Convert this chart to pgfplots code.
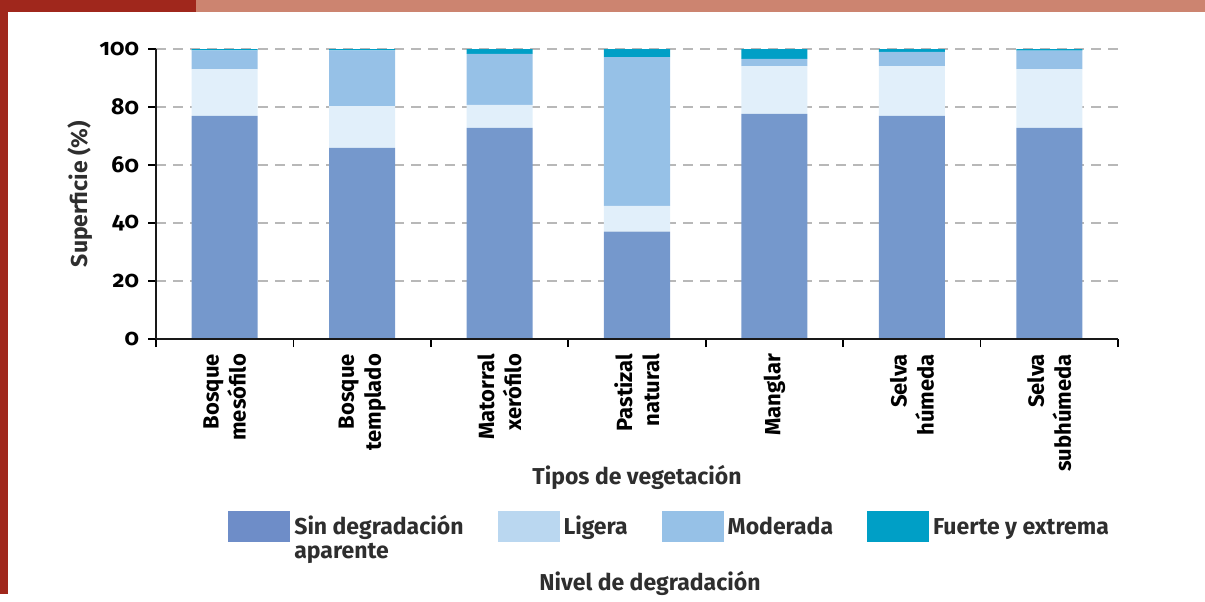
\documentclass[border=0pt]{standalone}
\usepackage{fontspec}
\setmainfont{Fira Sans}[Numbers=OldStyle]
\usepackage{pgfplots}
\usepackage{pgfplotstable}
\pgfplotsset{compat=1.18}

\definecolor{sinC}{HTML}{7598CC}
\definecolor{sinL}{HTML}{6E8DC8}
\definecolor{ligC}{HTML}{E1EFFA}
\definecolor{ligL}{HTML}{BAD7F0}
\definecolor{modC}{HTML}{96C1E7}
\definecolor{fueC}{HTML}{009FC6}
\definecolor{darkred}{HTML}{A0271C}
\definecolor{salmon}{HTML}{CC8470}
\definecolor{txt}{HTML}{2E2E2E}

% bars above the grid, axis lines above the bars
\pgfplotsset{
  layers/barsmid/.define layer set={
    axis background,axis grid,pre main,main,axis ticks,axis lines,
    axis tick labels,axis descriptions,axis foreground
  }{
    grid style={/pgfplots/on layer=axis grid},
    tick style={/pgfplots/on layer=axis ticks},
    axis line style={/pgfplots/on layer=axis lines},
    label style={/pgfplots/on layer=axis descriptions},
    legend style={/pgfplots/on layer=axis descriptions},
    title style={/pgfplots/on layer=axis descriptions},
    ticklabel style={/pgfplots/on layer=axis tick labels},
    axis background@ style={/pgfplots/on layer=axis background},
  },
}
\newcommand\lstrut{\rule{0pt}{10pt}}

% superficie (%) por nivel de degradacion
\pgfplotstableread{
x   sin   lig   mod   fue
0   76.9  16.2  6.4   0.5
1   65.9  14.4  19.2  0.5
2   72.8  7.9   17.6  1.7
3   37.0  8.9   51.3  2.8
4   77.6  16.5  2.5   3.4
5   76.9  17.2  4.9   1.0
6   72.8  20.3  6.3   0.6
}\degtable

\begin{document}
\begin{tikzpicture}
\begin{axis}[
  at={(0,0)}, anchor=south west,
  width=481pt, height=145pt, scale only axis,
  set layers=barsmid,
  ybar stacked, bar width=33pt,
  xmin=-0.5, xmax=6.5, ymin=0, ymax=100,
  axis x line*=bottom, axis y line*=left,
  axis line style={line width=1pt, color=black!90},
  tick align=outside,
  xtick={0,...,6},
  xticklabels={{Bosque\\mesófilo},{Bosque\\templado},{Matorral\\xerófilo},
    {Pastizal\\natural},{Manglar},{Selva\\húmeda},{Selva\\subhúmeda}},
  major x tick style={draw=none},
  minor xtick={-0.5,0.5,...,6.5},
  minor tick length=4pt,
  minor x tick style={line width=0.9pt, black},
  ytick={0,20,...,100},
  major tick length=4pt,
  y tick style={line width=0.9pt, black},
  ymajorgrids,
  grid style={line width=0.8pt, color=black!28, dash pattern=on 5pt off 3.5pt},
  /pgf/number format/assume math mode=true,
  yticklabel style={font=\bfseries\fontsize{11.5}{13}\selectfont, xshift=-1pt},
  xticklabel style={rotate=90, anchor=east, align=right,
    font=\bfseries\fontsize{11}{13.5}\selectfont},
  ylabel={Superficie (\%)},
  ylabel style={at={(axis description cs:-0.079,0.5)}, anchor=center,
    font=\bfseries\fontsize{11.5}{14}\selectfont, text=txt},
  xlabel={Tipos de vegetación},
  xlabel style={at={(axis description cs:0.5,-0.476)}, anchor=center,
    font=\bfseries\fontsize{11.5}{14}\selectfont, text=txt},
  legend columns=4,
  legend image code/.code={\fill[#1] (0pt,0pt) rectangle (31pt,-15.5pt);},
  legend style={at={(axis description cs:0.0748,-0.59)}, anchor=north west,
    draw=none, fill=none, inner sep=0pt,
    font=\bfseries\fontsize{11.5}{12}\selectfont, text=txt,
    cells={anchor=north west, align=left},
    column sep=0pt,
    /tikz/every even column/.append style={column sep=15pt}},
]
\addplot[fill=sinC, draw=none, forget plot] table[x=x, y=sin] {\degtable};
\addplot[fill=ligC, draw=none, forget plot] table[x=x, y=lig] {\degtable};
\addplot[fill=modC, draw=none, forget plot] table[x=x, y=mod] {\degtable};
\addplot[fill=fueC, draw=none, forget plot] table[x=x, y=fue] {\degtable};

\addlegendimage{fill=sinL, draw=none}
\addlegendentry{\lstrut Sin degradación\\aparente}
\addlegendimage{fill=ligL, draw=none}
\addlegendentry{\lstrut Ligera}
\addlegendimage{fill=modC, draw=none}
\addlegendentry{\lstrut Moderada}
\addlegendimage{fill=fueC, draw=none}
\addlegendentry{\lstrut Fuerte y extrema}
\end{axis}

\node[font=\bfseries\fontsize{11.5}{14}\selectfont, text=txt] at (247pt,-122pt) {Nivel de degradación};
\fill[darkred] (-78pt,163.5pt) rectangle (20pt,169.5pt);
\fill[salmon] (20pt,163.5pt) rectangle (524.5pt,169.5pt);
\fill[darkred] (-78pt,-127.5pt) rectangle (-74pt,169.5pt);
\path (-78pt,-127.5pt) rectangle (524.5pt,169.5pt);
\end{tikzpicture}
\end{document}
